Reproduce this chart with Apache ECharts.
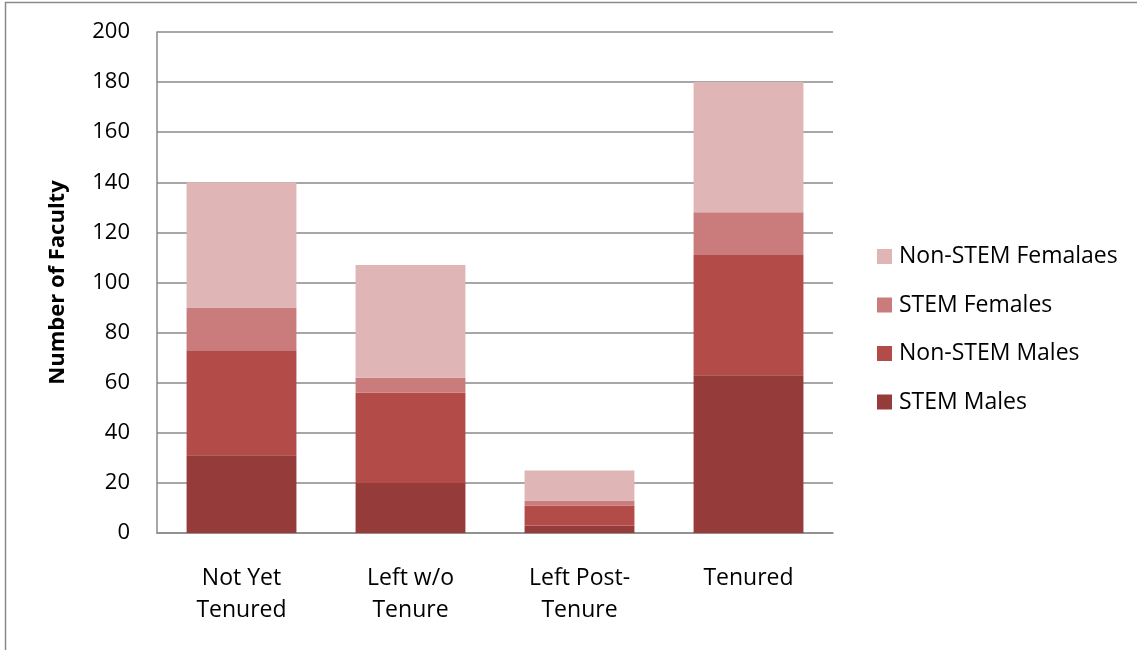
<!DOCTYPE html>
<html>
<head>
<meta charset="utf-8">
<script src="https://cdn.jsdelivr.net/npm/echarts@6/dist/echarts.min.js"></script>
<style>
  html, body { margin: 0; padding: 0; background: #fff; }
  #chart { width: 1137px; height: 650px; }
</style>
</head>
<body>
<div id="chart"></div>
<script>
// Faculty counts by career status, stacked by field and gender
const categories = ['Not Yet\nTenured', 'Left w/o\nTenure', 'Left Post-\nTenure', 'Tenured'];
const stemMales = [31, 20, 3, 63];
const nonStemMales = [42, 36, 8, 48];
const stemFemales = [17, 6, 2, 17];
const nonStemFemales = [50, 45, 12, 52];
const yTicks = [0, 20, 40, 60, 80, 100, 120, 140, 160, 180, 200];

const FONT = '"Open Sans", sans-serif';

const chart = echarts.init(document.getElementById('chart'));

function stackSeries(name, data, color) {
  return {
    name: name,
    type: 'bar',
    stack: 'total',
    data: data,
    barCategoryGap: '35%',
    itemStyle: { color: color },
    emphasis: { disabled: true }
  };
}

chart.setOption({
  animation: false,
  textStyle: { fontFamily: FONT },
  graphic: [{
    type: 'rect',
    shape: { x: 5.5, y: 2.5, width: 1300, height: 800 },
    style: { fill: 'none', stroke: '#8a8a8a', lineWidth: 1.5 },
    silent: true,
    z: -1
  }],
  grid: { left: 157, right: 304, top: 32, bottom: 117 },
  legend: {
    orient: 'vertical',
    left: 872,
    top: 240,
    itemWidth: 15,
    itemHeight: 15,
    itemGap: 25.5,
    icon: 'rect',
    data: ['Non-STEM Femalaes', 'STEM Females', 'Non-STEM Males', 'STEM Males'],
    textStyle: { fontFamily: FONT, fontSize: 23, color: '#000', padding: [0, 0, 0, 2] }
  },
  xAxis: {
    type: 'category',
    data: categories,
    axisLine: { lineStyle: { color: '#8a8a8a', width: 1.5 } },
    axisTick: { show: false },
    axisLabel: {
      color: '#000',
      fontFamily: FONT,
      fontSize: 23,
      lineHeight: 32,
      margin: 29
    }
  },
  yAxis: {
    type: 'value',
    min: yTicks[0],
    max: yTicks[yTicks.length - 1],
    interval: yTicks[1] - yTicks[0],
    name: 'Number of Faculty',
    nameLocation: 'middle',
    nameGap: 88,
    nameTextStyle: { color: '#000', fontFamily: FONT, fontSize: 22, fontWeight: 'bold' },
    axisLine: { show: true, lineStyle: { color: '#8a8a8a', width: 1.5 } },
    axisTick: { show: false },
    splitLine: { lineStyle: { color: '#8a8a8a', width: 1.5 } },
    axisLabel: { color: '#000', fontFamily: FONT, fontSize: 22, margin: 27 }
  },
  series: [
    stackSeries('STEM Males', stemMales, '#953b3a'),
    stackSeries('Non-STEM Males', nonStemMales, '#b34b48'),
    stackSeries('STEM Females', stemFemales, '#c97c7b'),
    stackSeries('Non-STEM Femalaes', nonStemFemales, '#dfb5b5')
  ]
});
</script>
</body>
</html>
